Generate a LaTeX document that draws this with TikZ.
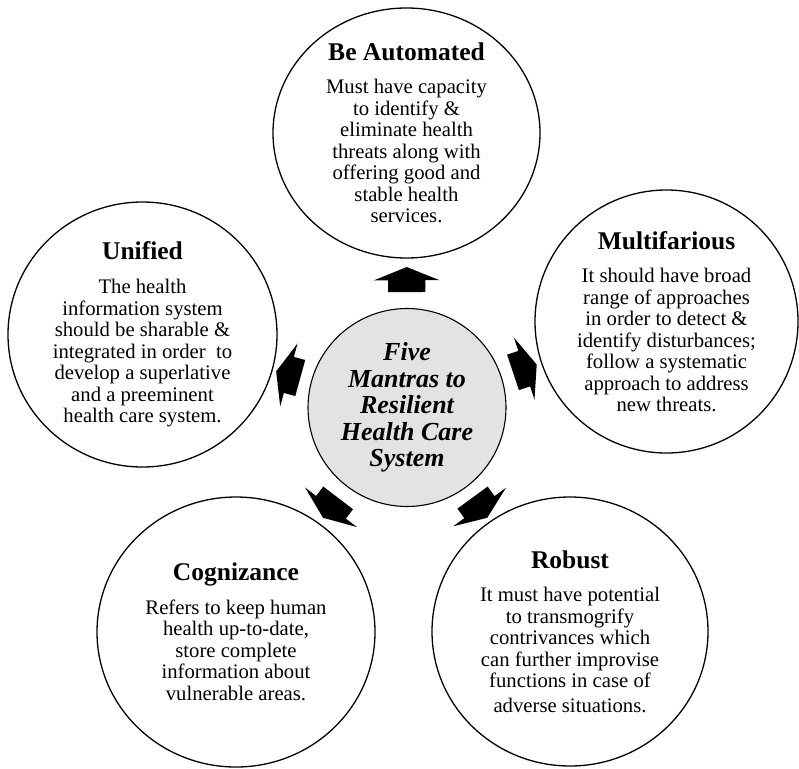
\documentclass[tikz,border=0pt]{standalone}
\usepackage{fontspec}
\setmainfont{Liberation Serif}
\usetikzlibrary{shapes,shapes.geometric,shapes.arrows}
\tikzstyle{mantra}=[ellipse,draw,line width=1.3pt,inner sep=-12pt,align=center,font=\fontsize{20.7}{21.5}\selectfont]
\tikzstyle{hub}=[circle,draw,fill=gray!22,line width=1.1pt,inner sep=0pt,minimum size=198pt,align=center,font=\fontsize{26}{26.4}\selectfont\bfseries\itshape]
\tikzstyle{blockarrow}=[single arrow,fill=black,inner xsep=0pt,inner ysep=18.5pt,minimum height=25pt,single arrow head extend=14pt,single arrow tip angle=136,sloped,allow upside down]
\newcommand{\mtitle}[1]{{\fontsize{25.5}{25.5}\selectfont\bfseries #1}}

\begin{document}
\begin{tikzpicture}[x=1pt,y=-1pt]
  \useasboundingbox (0,0) rectangle (799,768);
  \node[hub] (hub) at (407,407.5) {Five\\Mantras to\\Resilient\\Health Care\\System};
  \node[mantra,minimum width=267pt,minimum height=250pt] (auto) at (406.5,133)
    {\mtitle{Be Automated}\\[12pt] Must have capacity\\ to identify \&\\ eliminate health\\ threats along with\\ offering good and\\ stable health\\ services.};
  \node[mantra,minimum width=263pt,minimum height=263pt] (multi) at (666.5,321.5)
    {\mtitle{Multifarious}\\[12pt] It should have broad\\ range of approaches\\ in order to detect \&\\ identify disturbances;\\ follow a systematic\\ approach to address\\ new threats.};
  \node[mantra,minimum width=276pt,minimum height=269pt] (robust) at (570,631.5)
    {\mtitle{Robust}\\[12pt] It must have potential\\ to transmogrify\\ contrivances which\\ can further improvise\\ functions in case of\\[3pt] adverse situations.};
  \node[mantra,minimum width=278pt,minimum height=270pt] (cogn) at (236,632)
    {\mtitle{Cognizance}\\[12pt] Refers to keep human\\ health up-to-date,\\ store complete\\ information about\\ vulnerable areas.};
  \node[mantra,minimum width=269pt,minimum height=265pt] (unif) at (142.5,334.5)
    {\mtitle{Unified}\\[12pt] The health\\ information system\\ should be sharable \&\\ integrated in order~ to\\ develop a superlative\\ and a preeminent\\ health care system.};
  \path (hub) -- node[blockarrow] (toauto) {} (auto);
  \path (hub) -- node[blockarrow] (tomulti) {} (multi);
  \path (hub) -- node[blockarrow] (torobust) {} (robust);
  \path (hub) -- node[blockarrow] (tocogn) {} (cogn);
  \path (hub) -- node[blockarrow] (tounif) {} (unif);
\end{tikzpicture}
\end{document}
